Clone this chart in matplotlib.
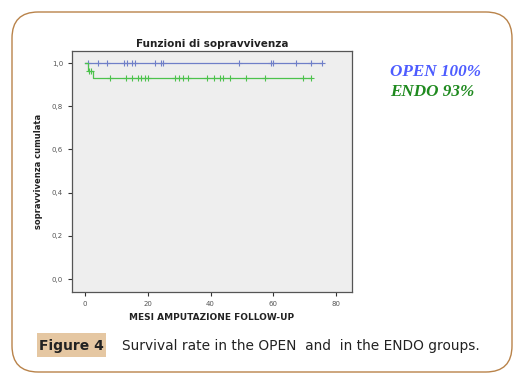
import numpy as np
import matplotlib.pyplot as plt
from matplotlib.patches import FancyBboxPatch, Rectangle

# Dati (Kaplan-Meier)
open_time = [0, 75.3]
open_surv = [1.0, 1.0]
open_censor = [1.0, 4.2, 7.1, 12.5, 13.3, 15.0, 15.9, 22.3, 24.2, 25.0,
               49.1, 59.1, 60.0, 67.1, 72.1, 75.3]

endo_time = [0, 1.0, 2.6, 72.1]
endo_surv = [1.0, 0.964, 0.929, 0.929]
endo_censor = [1.4, 2.1, 8.0, 13.1, 14.9, 17.0, 18.0, 19.1, 20.2, 28.7, 30.0,
               31.3, 32.9, 39.0, 41.2, 43.0, 43.9, 46.2, 51.3, 57.3, 69.3, 72.1]

y_ticks = [0.0, 0.2, 0.4, 0.6, 0.8, 1.0]
y_labels = ['0,0', '0,2', '0,4', '0,6', '0,8', '1,0']
x_ticks = [0, 20, 40, 60, 80]

blue = '#6f7fc8'
green = '#4cc24c'


def step_at(t, times, surv):
    idx = np.searchsorted(times, t, side='right') - 1
    return np.array(surv)[idx]


fig = plt.figure(figsize=(5.23, 3.84), dpi=100)

# cornice arrotondata
frame = FancyBboxPatch((12 / 523, 12 / 384), 500 / 523, 360 / 384,
                       boxstyle='round,pad=0,rounding_size=0.05',
                       transform=fig.transFigure, facecolor='white',
                       edgecolor='#b9834a', linewidth=1.0,
                       mutation_aspect=523 / 384, zorder=-5)
fig.patches.append(frame)

ax = fig.add_axes([72 / 523, 1 - 292 / 384, 280 / 523, 241 / 384])
ax.set_facecolor('#eeeeee')

ax.step(open_time, open_surv, where='post', color=blue, linewidth=0.9)
ax.plot(open_censor, step_at(open_censor, open_time, open_surv), '+',
        color=blue, markersize=4, markeredgewidth=0.8)
ax.step(endo_time, endo_surv, where='post', color=green, linewidth=0.9)
ax.plot(endo_censor, step_at(endo_censor, endo_time, endo_surv), '+',
        color=green, markersize=4, markeredgewidth=0.8)

ax.set_xlim(-4.1, 85)
ax.set_ylim(-0.06, 1.056)
ax.set_xticks(x_ticks)
ax.set_yticks(y_ticks)
ax.set_yticklabels(y_labels)
ax.tick_params(labelsize=5, colors='#555555', length=3, width=0.8)
ax.tick_params(axis='both', color='#333333')
for s in ax.spines.values():
    s.set_color('#555555')
    s.set_linewidth(0.9)

ax.set_title('Funzioni di sopravvivenza', fontsize=7.5, fontweight='bold',
             color='#222222', pad=3)
ax.set_xlabel('MESI AMPUTAZIONE FOLLOW-UP', fontsize=6.5, fontweight='bold',
              color='#222222', labelpad=4)
ax.set_ylabel('sopravvivenza cumulata', fontsize=6, fontweight='bold',
              color='#222222', labelpad=6)

fig.text(390 / 523, 1 - 72 / 384, 'OPEN 100%', fontsize=12.3, style='italic',
         fontweight='semibold', family='Liberation Serif', color='#4d5cff',
         va='center')
fig.text(390 / 523, 1 - 92 / 384, 'ENDO 93%', fontsize=12.3, style='italic',
         fontweight='semibold', family='Liberation Serif', color='#1f8a1f',
         va='center')

# didascalia
fig.patches.append(Rectangle((37 / 523, 1 - 357 / 384), 69 / 523, 24 / 384,
                             transform=fig.transFigure, facecolor='#e5c7a2',
                             edgecolor='none'))
fig.text(71.5 / 523, 1 - 346 / 384, 'Figure 4', fontsize=10, fontweight='bold',
         ha='center', va='center', color='#222222')
fig.text(122 / 523, 1 - 346 / 384, 'Survival rate in the OPEN  and  in the ENDO groups.',
         fontsize=9.9, va='center', color='#222222')

plt.savefig('out.png', dpi=100)
plt.close()
